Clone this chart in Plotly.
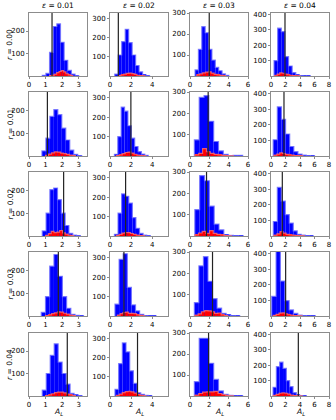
import plotly.graph_objects as go
from plotly.subplots import make_subplots

eps_labels = ["0.01", "0.02", "0.03", "0.04"]
r_labels = ["0.00", "0.01", "0.02", "0.03", "0.04"]

# per-column axis setup
x_max = [3.5, 5.5, 6, 8]
y_max = [280, 330, 300, 410]
x_ticks = [[0, 1, 2, 3], [0, 2, 4], [0, 2, 4, 6], [0, 2, 4, 6, 8]]
y_ticks = [[100, 200], [100, 200, 300], [100, 200, 300], [100, 200, 300, 400]]

# blue histograms: first bin edge, bin width, counts  (rows = r, cols = eps)
blue_start = [
    [0.80, 0.45, 0.52, 0.42],
    [0.78, 0.42, 0.45, 0.30],
    [0.80, 0.42, 0.50, 0.32],
    [0.74, 0.47, 0.45, 0.10],
    [0.80, 0.47, 0.45, 0.28],
]
blue_width = [
    [0.22, 0.33, 0.35, 0.50],
    [0.24, 0.32, 0.50, 0.57],
    [0.23, 0.34, 0.50, 0.55],
    [0.255, 0.39, 0.47, 0.60],
    [0.24, 0.35, 0.50, 0.46],
]
blue_counts = [
    [[3, 12, 105, 220, 232, 150, 70, 25, 8, 2],
     [10, 110, 180, 245, 175, 110, 55, 22, 6, 2],
     [29, 127, 235, 206, 127, 76, 41, 25, 10, 3],
     [100, 311, 289, 126, 65, 22, 8, 3, 1, 1]],
    [[22, 78, 173, 203, 181, 122, 70, 26, 7, 2],
     [9, 100, 252, 231, 156, 92, 49, 23, 10, 3],
     [76, 275, 283, 163, 68, 24, 8, 2, 3, 3],
     [104, 315, 235, 141, 61, 28, 12, 5, 2, 1]],
    [[22, 100, 203, 210, 159, 100, 46, 12, 4, 2],
     [9, 118, 217, 205, 170, 95, 40, 14, 5, 2],
     [124, 283, 259, 140, 56, 29, 5, 3, 2, 1],
     [93, 311, 224, 137, 83, 33, 11, 5, 2, 1]],
    [[16, 85, 218, 269, 174, 85, 34, 7, 3, 1],
     [61, 292, 321, 148, 57, 26, 8, 2, 1, 1],
     [63, 235, 278, 163, 81, 37, 13, 5, 2, 1],
     [126, 420, 224, 98, 39, 17, 6, 3, 1, 1]],
    [[26, 100, 181, 232, 151, 100, 53, 12, 6, 2],
     [35, 170, 278, 231, 132, 66, 17, 8, 3, 1],
     [68, 275, 275, 156, 79, 24, 8, 3, 1, 1],
     [57, 191, 220, 180, 100, 61, 22, 8, 3, 1]],
]

# red histograms
red_start = [
    [1.25, 0.80, 0.70, 0.50],
    [1.00, 0.60, 0.50, 0.40],
    [1.00, 0.60, 0.50, 0.40],
    [1.00, 0.70, 0.50, 0.30],
    [1.00, 0.60, 0.50, 0.30],
]
red_width = [
    [0.14, 0.25, 0.30, 0.35],
    [0.18, 0.28, 0.40, 0.40],
    [0.17, 0.27, 0.38, 0.42],
    [0.18, 0.26, 0.34, 0.40],
    [0.18, 0.28, 0.40, 0.40],
]
red_counts = [
    [[2, 4, 8, 15, 20, 24, 18, 10, 5, 2],
     [2, 6, 10, 14, 15, 12, 8, 4, 2, 1],
     [5, 10, 15, 18, 20, 14, 8, 5, 3, 1],
     [5, 12, 20, 18, 12, 8, 5, 3, 1, 1]],
    [[3, 8, 14, 18, 17, 13, 10, 7, 4, 2],
     [2, 6, 12, 18, 20, 15, 9, 5, 2, 1],
     [5, 12, 35, 20, 12, 8, 5, 3, 2, 1],
     [5, 12, 20, 16, 10, 7, 5, 3, 2, 1]],
    [[3, 10, 20, 15, 17, 24, 14, 8, 4, 2],
     [3, 8, 15, 18, 17, 13, 8, 4, 2, 1],
     [5, 14, 22, 12, 25, 12, 8, 5, 2, 1],
     [6, 14, 28, 18, 10, 7, 5, 3, 2, 1]],
    [[2, 5, 10, 14, 18, 17, 12, 8, 4, 2],
     [5, 12, 18, 20, 14, 14, 12, 6, 3, 1],
     [4, 10, 20, 25, 24, 20, 12, 14, 5, 2],
     [4, 10, 18, 20, 14, 8, 5, 3, 2, 1]],
    [[2, 5, 10, 15, 17, 17, 14, 9, 5, 2],
     [4, 10, 18, 23, 25, 22, 15, 8, 4, 1],
     [4, 12, 18, 20, 20, 22, 12, 6, 3, 1],
     [4, 10, 18, 20, 18, 12, 6, 3, 2, 1]],
]

# vertical reference lines
vline_x = [
    [1.39, 0.79, 1.99, 1.93],
    [1.11, 1.98, 1.88, 1.79],
    [2.09, 1.48, 1.71, 1.56],
    [1.77, 1.32, 2.33, 2.02],
    [2.31, 2.61, 1.92, 3.77],
]

W, H = 336, 420
col_px = [(29, 87), (110, 168), (190, 248), (271, 329)]
row_px = [(13, 76), (92, 156), (172, 236), (252, 316), (333, 396)]

fig = make_subplots(rows=5, cols=4)
FONT = "DejaVu Sans"
GRAY = "#8c8c8c"


def add_hist(start, width, counts, fill, edge, r, c):
    n = len(counts)
    fig.add_trace(go.Bar(
        x=[start + width * (i + 0.5) for i in range(n)], y=counts,
        width=width, marker_color=fill, marker_line_width=0,
        showlegend=False, hoverinfo="skip"), row=r + 1, col=c + 1)
    # outline of the histogram envelope
    edges = [start + width * i for i in range(n + 1)]
    fig.add_trace(go.Scatter(
        x=[edges[0]] + edges, y=[0] + list(counts) + [0],
        mode="lines", line=dict(color=edge, width=1.2, shape="hv"),
        showlegend=False, hoverinfo="skip"), row=r + 1, col=c + 1)


for r in range(5):
    for c in range(4):
        add_hist(blue_start[r][c], blue_width[r][c], blue_counts[r][c],
                 "#0000ff", "rgba(110,110,255,0.8)", r, c)
        add_hist(red_start[r][c], red_width[r][c], red_counts[r][c],
                 "#ff0000", "rgba(255,110,110,0.8)", r, c)

        idx = r * 4 + c + 1
        xn = "x" if idx == 1 else f"x{idx}"
        yn = "y" if idx == 1 else f"y{idx}"
        fig.add_shape(type="line", x0=vline_x[r][c], x1=vline_x[r][c], y0=0, y1=1,
                      xref=xn, yref=f"{yn} domain",
                      line=dict(color="#222222", width=1.2))

        x0, x1 = col_px[c]
        t, b = row_px[r]
        fig.update_xaxes(domain=[x0 / W, x1 / W], range=[0, x_max[c]],
                         tickvals=x_ticks[c], row=r + 1, col=c + 1)
        fig.update_yaxes(domain=[1 - b / H, 1 - t / H], range=[0, y_max[c]],
                         tickvals=y_ticks[c], row=r + 1, col=c + 1)

fig.update_xaxes(showgrid=False, zeroline=False, showline=True, linecolor=GRAY,
                 linewidth=1, mirror=True, ticks="outside", ticklen=2,
                 tickcolor=GRAY, tickfont=dict(size=7, color="black"),
                 automargin=False, ticklabeloverflow="allow")
fig.update_yaxes(showgrid=False, zeroline=False, showline=True, linecolor=GRAY,
                 linewidth=1, mirror=True, ticks="outside", ticklen=2,
                 tickcolor=GRAY, tickfont=dict(size=7, color="black"),
                 automargin=False, ticklabeloverflow="allow")

for c in range(4):
    x0, x1 = col_px[c]
    xc = (x0 + x1) / 2 / W
    fig.add_annotation(text="<i>ε</i> = " + eps_labels[c], x=xc, y=1 - 6 / H,
                       xref="paper", yref="paper", xanchor="center",
                       yanchor="middle", showarrow=False,
                       font=dict(size=7.5, color="black"))
    fig.add_annotation(text="<i>A<sub>L</sub></i>", x=xc, y=1 - 412 / H,
                       xref="paper", yref="paper", xanchor="center",
                       yanchor="middle", showarrow=False,
                       font=dict(size=7.5, color="black"))

for r in range(5):
    t, b = row_px[r]
    fig.add_annotation(text="<i>r</i> = " + r_labels[r], x=9.5 / W,
                       y=1 - (t + b) / 2 / H, xref="paper", yref="paper",
                       xanchor="center", yanchor="middle",
                       showarrow=False, textangle=-90,
                       font=dict(size=7.5, color="black"))

fig.update_layout(width=W, height=H, margin=dict(l=0, r=0, t=0, b=0),
                  barmode="overlay", plot_bgcolor="white", paper_bgcolor="white",
                  font=dict(family=FONT), hovermode=False)

# drop the browser's default 8px body margin so the figure fills the window
fig.write_html("out.html", config={"displayModeBar": False},
               post_script="document.body.style.margin = '0';")
